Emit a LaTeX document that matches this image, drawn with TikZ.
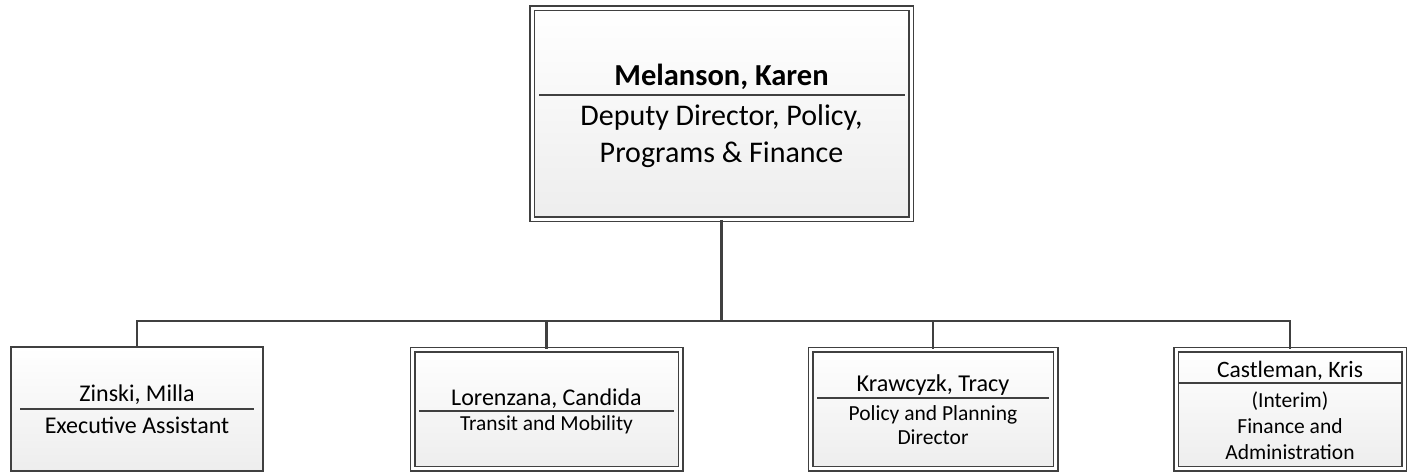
\documentclass[tikz,border=0pt]{standalone}
\usepackage{fontspec}
\setmainfont{Carlito}
\usetikzlibrary{shadows}
\definecolor{edge}{HTML}{404040}
\tikzset{
  box/.style={draw=edge, double=white, double distance=3pt, line width=1.5pt,
    top color=white, bottom color=black!7, rectangle, inner sep=0pt,
    drop shadow={shadow xshift=3pt, shadow yshift=-3pt, fill=black, opacity=0.15}},
  sbox/.style={draw=edge, line width=1.6pt, top color=white, bottom color=black!7,
    rectangle, inner sep=0pt},
  divider/.style={draw=edge, line width=1.3pt},
  wire/.style={draw=edge, line width=2.4pt},
  txt/.style={inner sep=0pt, align=center, text=black}
}
\begin{document}
\begin{tikzpicture}[x=1pt,y=-1pt]
\useasboundingbox (0,0) rectangle (1408,472);
% boxes
\node[box, minimum width=379pt, minimum height=211pt] (top) at (721.5,113.5) {};
\node[sbox, minimum width=252pt, minimum height=124pt] (b1) at (137,409) {};
\node[box, minimum width=268pt, minimum height=119pt] (b2) at (546.5,409) {};
\node[box, minimum width=245pt, minimum height=119pt] (b3) at (933,409) {};
\node[box, minimum width=228pt, minimum height=119pt] (b4) at (1290,409) {};
% connectors
\coordinate (bus) at (721.5,321);
\draw[wire] (top.south) -- (bus);
\draw[wire] (b1.north) |- (bus) -| (b4.north);
\draw[wire] (b2.north) -- (b2.north |- bus);
\draw[wire] (b3.north) -- (b3.north |- bus);
% dividers
\draw[divider] (539,95) -- (905,95);
\draw[divider] (20,409) -- (254,409);
\draw[divider] (419,411) -- (674,411);
\draw[divider] (817,398) -- (1049,398);
\draw[divider] (1178,383) -- (1402,383);
% texts
\node[txt, font=\fontsize{30.5}{37}\selectfont\bfseries] (tn) at (721.5,77) {Melanson, Karen};
\node[txt, font=\fontsize{30}{37}\selectfont] (tt) at (721.5,136.5) {Deputy Director, Policy,\\Programs \& Finance};
\node[txt, font=\fontsize{24}{28}\selectfont] (n1) at (137,395) {Zinski, Milla};
\node[txt, font=\fontsize{24}{28}\selectfont] (t1) at (137,425) {Executive Assistant};
\node[txt, font=\fontsize{24}{28}\selectfont] (n2) at (546.5,399) {Lorenzana, Candida};
\node[txt, font=\fontsize{21.4}{24}\selectfont] (t2) at (546.5,425) {Transit and Mobility};
\node[txt, font=\fontsize{24.2}{28}\selectfont] (n3) at (933,385) {Krawcyzk, Tracy};
\node[txt, font=\fontsize{21.5}{24}\selectfont] (t3) at (933,425) {Policy and Planning\\Director};
\node[txt, font=\fontsize{23.5}{26}\selectfont] (n4) at (1290,371) {Castleman, Kris};
\node[txt, font=\fontsize{21.5}{26}\selectfont] (t4) at (1290,426) {(Interim)\\Finance and\\Administration};
\end{tikzpicture}
\end{document}
